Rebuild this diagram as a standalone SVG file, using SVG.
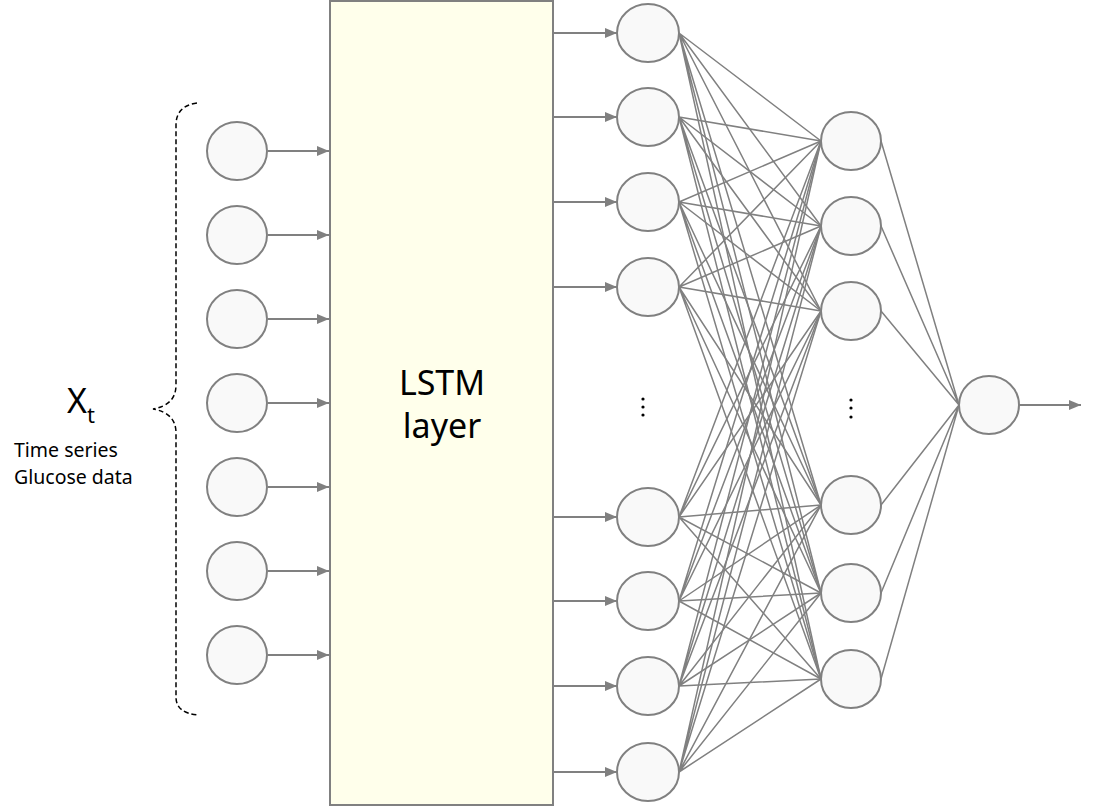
<svg xmlns="http://www.w3.org/2000/svg" width="1094" height="807" viewBox="0 0 1094 807">
<defs>
<marker id="ah" markerWidth="12" markerHeight="10" refX="12" refY="5" orient="auto" markerUnits="userSpaceOnUse">
<path d="M0,0 L12,5 L0,10 Z" fill="#808080"/>
</marker>
<style>
.n{fill:#f9f9f9;stroke:#808080;stroke-width:2}
.c{stroke:#808080;stroke-width:1.5;fill:none}
.a{stroke:#808080;stroke-width:2;fill:none;marker-end:url(#ah)}
.t{font-family:"Noto Sans","Open Sans",sans-serif;fill:#000}
.d{fill:#000}
</style>
</defs>
<rect width="1094" height="807" fill="#fff"/>
<g id="lstm">
<rect x="330" y="1" width="223" height="804" fill="#ffffeb" stroke="#808080" stroke-width="2"/>
<text class="t" x="442" y="395" font-size="34" text-anchor="middle">LSTM</text>
<text class="t" x="442" y="438" font-size="34" text-anchor="middle">layer</text>
</g>
<g id="label">
<path d="M197,103 Q176,106 176,125 L176,385 Q176,405 153,409 Q176,413 176,433 L176,697 Q176,713 198,715" fill="none" stroke="#000" stroke-width="1.5" stroke-dasharray="5,3"/>
<text class="t" x="67" y="413" font-size="34">X<tspan font-size="22" dy="10">t</tspan></text>
<text class="t" x="14" y="457" font-size="19.5">Time series</text>
<text class="t" x="14" y="484" font-size="19.5">Glucose data</text>
</g>
<g id="connectors">
<g id="input-arrows">
<line class="a" x1="268" y1="151" x2="329" y2="151"/>
<line class="a" x1="268" y1="235" x2="329" y2="235"/>
<line class="a" x1="268" y1="319" x2="329" y2="319"/>
<line class="a" x1="268" y1="403" x2="329" y2="403"/>
<line class="a" x1="268" y1="487" x2="329" y2="487"/>
<line class="a" x1="268" y1="571" x2="329" y2="571"/>
<line class="a" x1="268" y1="655" x2="329" y2="655"/>
</g>
<g id="hidden-arrows">
<line class="a" x1="553" y1="33" x2="617" y2="33"/>
<line class="a" x1="553" y1="117" x2="617" y2="117"/>
<line class="a" x1="553" y1="202" x2="617" y2="202"/>
<line class="a" x1="553" y1="287" x2="617" y2="287"/>
<line class="a" x1="553" y1="517" x2="617" y2="517"/>
<line class="a" x1="553" y1="601" x2="617" y2="601"/>
<line class="a" x1="553" y1="686" x2="617" y2="686"/>
<line class="a" x1="553" y1="772" x2="617" y2="772"/>
</g>
<g id="dense1">
<path class="c" d="M679,33 L821,141 M679,33 L821,226 M679,33 L821,311 M679,33 L821,505 M679,33 L821,593 M679,33 L821,679"/>
<path class="c" d="M679,117 L821,141 M679,117 L821,226 M679,117 L821,311 M679,117 L821,505 M679,117 L821,593 M679,117 L821,679"/>
<path class="c" d="M679,202 L821,141 M679,202 L821,226 M679,202 L821,311 M679,202 L821,505 M679,202 L821,593 M679,202 L821,679"/>
<path class="c" d="M679,287 L821,141 M679,287 L821,226 M679,287 L821,311 M679,287 L821,505 M679,287 L821,593 M679,287 L821,679"/>
<path class="c" d="M679,517 L821,141 M679,517 L821,226 M679,517 L821,311 M679,517 L821,505 M679,517 L821,593 M679,517 L821,679"/>
<path class="c" d="M679,601 L821,141 M679,601 L821,226 M679,601 L821,311 M679,601 L821,505 M679,601 L821,593 M679,601 L821,679"/>
<path class="c" d="M679,686 L821,141 M679,686 L821,226 M679,686 L821,311 M679,686 L821,505 M679,686 L821,593 M679,686 L821,679"/>
<path class="c" d="M679,772 L821,141 M679,772 L821,226 M679,772 L821,311 M679,772 L821,505 M679,772 L821,593 M679,772 L821,679"/>
</g>
<g id="dense2">
<path class="c" d="M881,141 L959,405 M881,226 L959,405 M881,311 L959,405 M881,505 L959,405 M881,593 L959,405 M881,679 L959,405"/>
</g>
<line class="a" x1="1019" y1="405" x2="1081" y2="405"/>
</g>
<g id="input-nodes">
<ellipse class="n" cx="237" cy="151" rx="30" ry="29"/>
<ellipse class="n" cx="237" cy="235" rx="30" ry="29"/>
<ellipse class="n" cx="237" cy="319" rx="30" ry="29"/>
<ellipse class="n" cx="237" cy="403" rx="30" ry="29"/>
<ellipse class="n" cx="237" cy="487" rx="30" ry="29"/>
<ellipse class="n" cx="237" cy="571" rx="30" ry="29"/>
<ellipse class="n" cx="237" cy="655" rx="30" ry="29"/>
</g>
<g id="hidden1">
<ellipse class="n" cx="648" cy="33" rx="31" ry="29"/>
<ellipse class="n" cx="648" cy="117" rx="31" ry="29"/>
<ellipse class="n" cx="648" cy="202" rx="31" ry="29"/>
<ellipse class="n" cx="648" cy="287" rx="31" ry="29"/>
<ellipse class="n" cx="648" cy="517" rx="31" ry="29"/>
<ellipse class="n" cx="648" cy="601" rx="31" ry="29"/>
<ellipse class="n" cx="648" cy="686" rx="31" ry="29"/>
<ellipse class="n" cx="648" cy="772" rx="31" ry="29"/>
<circle class="d" cx="643" cy="399" r="1.6"/>
<circle class="d" cx="643" cy="407" r="1.6"/>
<circle class="d" cx="643" cy="415" r="1.6"/>
</g>
<g id="hidden2">
<ellipse class="n" cx="851" cy="141" rx="30" ry="29"/>
<ellipse class="n" cx="851" cy="226" rx="30" ry="29"/>
<ellipse class="n" cx="851" cy="311" rx="30" ry="29"/>
<ellipse class="n" cx="851" cy="505" rx="30" ry="29"/>
<ellipse class="n" cx="851" cy="593" rx="30" ry="29"/>
<ellipse class="n" cx="851" cy="679" rx="30" ry="29"/>
<circle class="d" cx="851" cy="400" r="1.6"/>
<circle class="d" cx="851" cy="408" r="1.6"/>
<circle class="d" cx="851" cy="417" r="1.6"/>
</g>
<g id="output">
<ellipse class="n" cx="989" cy="405" rx="30" ry="29"/>
</g>
</svg>
